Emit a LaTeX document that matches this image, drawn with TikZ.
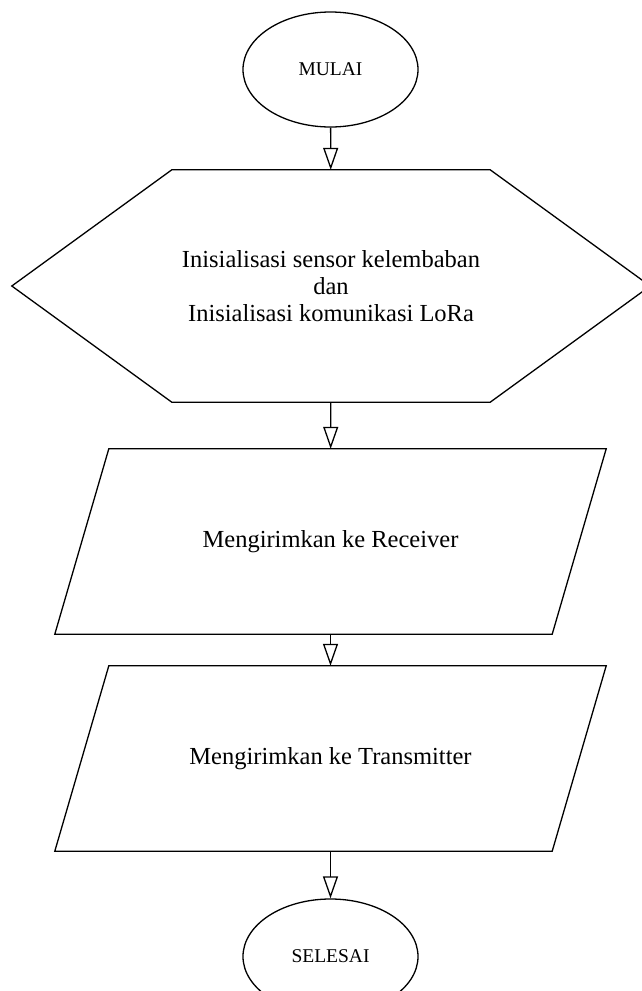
\documentclass[tikz,border=0pt]{standalone}
\usepackage{fontspec}
\setmainfont{Liberation Serif}
\usepackage{tikz}
\usetikzlibrary{arrows.meta,shapes,positioning,calc}
\tikzstyle{arrow} = [line width=1.3pt,-{Triangle[open,length=22pt,width=15pt,line width=1.3pt]}]
\tikzstyle{outline} = [line width=1.3pt, line join=miter]
\tikzstyle{terminal} = [ellipse, draw, line width=1.3pt, minimum width=175pt, minimum height=115pt, inner sep=0pt, font=\fontsize{19.5}{22}\selectfont]
\tikzstyle{prepbox} = [rectangle, minimum width=638pt, minimum height=232pt, inner sep=0pt, align=center, font=\fontsize{24.5}{27}\selectfont]
\tikzstyle{iobox} = [rectangle, minimum width=551pt, minimum height=185pt, inner sep=0pt, align=center, font=\fontsize{24.5}{27}\selectfont]

\begin{document}
\begin{tikzpicture}[x=1pt, y=-1pt]
    \useasboundingbox (0,0) rectangle (642,991);
    \clip (0,0) rectangle (642,991);

    % Mulai
    \node[terminal] (mulai) at (330.5, 69.5) {MULAI};

    % Inisialisasi
    \node[prepbox] (init) at (331, 286) {Inisialisasi sensor kelembaban\\dan\\Inisialisasi komunikasi LoRa};
    \draw[outline] ($(init.north west)+(160,0)$) -- ($(init.north east)+(-160,0)$) -- (init.east)
        -- ($(init.south east)+(-160,0)$) -- ($(init.south west)+(160,0)$) -- (init.west) -- cycle;

    % Kirim ke receiver
    \node[iobox] (kirimrx) at (330.5, 541.5) {Mengirimkan ke Receiver};
    \draw[outline] ($(kirimrx.north west)+(54,0)$) -- (kirimrx.north east)
        -- ($(kirimrx.south east)+(-54,0)$) -- (kirimrx.south west) -- cycle;

    % Kirim ke transmitter
    \node[iobox] (kirimtx) at (330.5, 758.5) {Mengirimkan ke Transmitter};
    \draw[outline] ($(kirimtx.north west)+(54,0)$) -- (kirimtx.north east)
        -- ($(kirimtx.south east)+(-54,0)$) -- (kirimtx.south west) -- cycle;

    % Selesai
    \node[terminal] (selesai) at (330.5, 956.5) {SELESAI};

    % Arrows
    \draw[arrow] (mulai) -- (init);
    \draw[arrow] (init) -- (kirimrx);
    \draw[arrow] (kirimrx) -- (kirimtx);
    \draw[arrow] (kirimtx) -- (selesai);
\end{tikzpicture}
\end{document}
